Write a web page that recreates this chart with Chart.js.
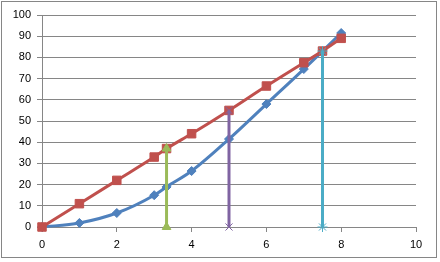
<!DOCTYPE html>
<html>
<head>
<meta charset="utf-8">
<script src="https://cdn.jsdelivr.net/npm/chart.js@4"></script>
<style>
  body { margin: 0; background: #fff; }
  #wrap { width: 440px; height: 262px; }
</style>
</head>
<body>
<div id="wrap"><canvas id="chart" width="440" height="262"></canvas></div>
<script>
// series values
const blueX = [0, 1, 2, 3, 3.33, 4, 5, 6, 7, 8];
const blueY = [0, 1.9, 6.6, 15, 18.9, 26.4, 41.5, 58, 74.5, 91.5];
const redX = [0, 1, 2, 3, 3.33, 4, 5, 6, 7, 7.5, 8];
const redY = [0, 11, 22, 33, 37, 44, 55, 66.5, 77.5, 83, 89];
const greenX = [3.33, 3.33];
const greenY = [0, 37];
const purpleX = [5, 5];
const purpleY = [0, 55];
const cyanX = [7.5, 7.5];
const cyanY = [0, 83];

const xTicks = [0, 2, 4, 6, 8, 10];
const yTicks = [0, 10, 20, 30, 40, 50, 60, 70, 80, 90, 100];

function pts(xs, ys) {
    return xs.map((x, i) => ({ x: x, y: ys[i] }));
}

function line(xs, ys, color, marker, size, order) {
    return {
        data: pts(xs, ys),
        showLine: true,
        clip: false,
        borderColor: color,
        backgroundColor: color,
        borderWidth: 3,
        pointStyle: marker,
        pointRadius: size,
        pointBorderColor: color,
        pointBackgroundColor: color,
        pointBorderWidth: 1,
        cubicInterpolationMode: 'monotone',
        order: order
    };
}

const grey = '#868686';

const frame = {
    id: 'frame',
    beforeDraw(c) {
        const ctx = c.ctx;
        ctx.save();
        ctx.fillStyle = '#fff';
        ctx.fillRect(0, 0, c.width, c.height);
        ctx.strokeStyle = grey;
        ctx.lineWidth = 1;
        ctx.strokeRect(1.5, 1.5, 435, 256);
        ctx.restore();
    }
};

const ctx = document.getElementById('chart').getContext('2d');
const chart = new Chart(ctx, {
    type: 'scatter',
    data: {
        datasets: [
            line(blueX, blueY, '#4F81BD', 'rectRot', 4.5, 5),
            line(redX, redY, '#C0504D', 'rect', 6, 4),
            line(greenX, greenY, '#9BBB59', 'triangle', 5, 3),
            line(purpleX, purpleY, '#8064A2', 'crossRot', 5, 2),
            line(cyanX, cyanY, '#4BACC6', 'star', 5, 1)
        ]
    },
    options: {
        responsive: false,
        animation: false,
        layout: { padding: { top: 15, right: 24, left: 0, bottom: 0 } },
        plugins: {
            legend: { display: false },
            tooltip: { enabled: false }
        },
        scales: {
            x: {
                type: 'linear',
                min: 0,
                max: 10,
                afterBuildTicks: s => { s.ticks = xTicks.map(v => ({ value: v })); },
                afterFit: s => { s.height = 35; },
                ticks: {
                    color: '#000',
                    padding: 6,
                    font: { family: 'Liberation Sans', size: 11 }
                },
                grid: { drawOnChartArea: false, drawTicks: true, tickLength: 5, color: grey },
                border: { color: grey }
            },
            y: {
                type: 'linear',
                min: 0,
                max: 100,
                afterBuildTicks: s => { s.ticks = yTicks.map(v => ({ value: v })); },
                afterFit: s => { s.width = 42; },
                ticks: {
                    color: '#000',
                    padding: 6,
                    font: { family: 'Liberation Sans', size: 11 }
                },
                grid: { color: grey, tickLength: 5 },
                border: { color: grey }
            }
        }
    },
    plugins: [frame]
});
</script>
</body>
</html>
